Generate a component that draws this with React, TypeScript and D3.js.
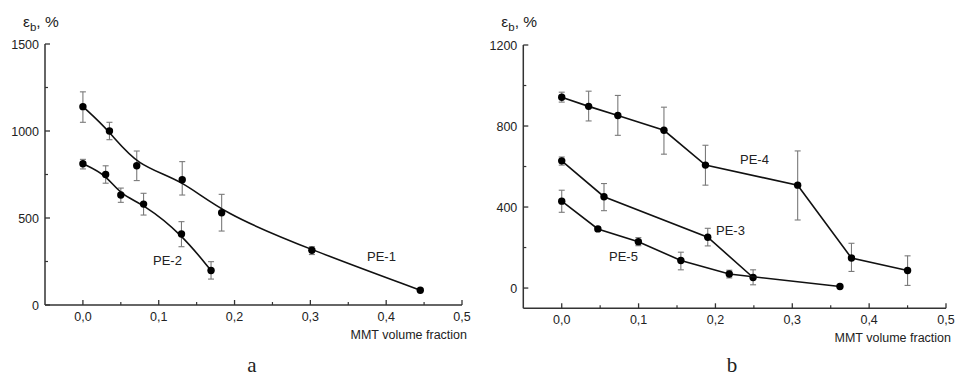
import React from "react";
import * as d3 from "d3";

// ---- Data ----
// Panel a
const pe1X = [0.0, 0.035, 0.071, 0.131, 0.183, 0.302, 0.445];
const pe1Y = [1140, 1000, 800, 720, 530, 315, 85];
const pe1Lo = [1050, 950, 715, 632, 425, 290, 85];
const pe1Hi = [1225, 1050, 885, 824, 636, 335, 85];

const pe2X = [0.0, 0.03, 0.05, 0.08, 0.13, 0.169];
const pe2Y = [812, 750, 632, 580, 408, 198];
const pe2Lo = [782, 700, 590, 517, 335, 149];
const pe2Hi = [837, 800, 672, 642, 479, 249];

// Panel b
const pe4X = [0.0, 0.035, 0.073, 0.133, 0.187, 0.307, 0.377, 0.45];
const pe4Y = [942, 897, 852, 779, 607, 508, 148, 87];
const pe4Lo = [918, 825, 754, 661, 508, 336, 82, 13];
const pe4Hi = [967, 972, 951, 893, 705, 677, 221, 159];

const pe3X = [0.0, 0.055, 0.19, 0.249];
const pe3Y = [628, 451, 251, 52];
const pe3Lo = [607, 382, 208, 16];
const pe3Hi = [647, 516, 295, 90];

const pe5X = [0.0, 0.047, 0.0997, 0.155, 0.218, 0.362];
const pe5Y = [429, 292, 229, 136, 69, 8];
const pe5Lo = [374, 282, 209, 90, 50, 8];
const pe5Hi = [483, 302, 249, 177, 88, 8];

const xTicks = [0, 0.1, 0.2, 0.3, 0.4, 0.5];
const xMinor = [0.05, 0.15, 0.25, 0.35, 0.45];
const aYTicks = [0, 500, 1000, 1500];
const aYMinor = [250, 750, 1250];
const bYTicks = [0, 400, 800, 1200];
const bYMinor = [200, 600, 1000];

type Series = { x: number[]; y: number[]; lo: number[]; hi: number[] };

const FONT = "'Liberation Sans', Arial, sans-serif";
const TXT = "#222";
const AX = "#333";

function fmtX(v: number) {
  return v.toFixed(1).replace(".", ",");
}

function Panel(props: {
  x0: number; x1: number; yTop: number; yBot: number;
  yDomain: [number, number];
  yTicks: number[]; yMinor: number[];
  series: Series[];
  curve: d3.CurveFactory;
  labels: { text: string; x: number; y: number }[];
  letter: string; letterX: number;
}) {
  const { x0, x1, yTop, yBot, yDomain, yTicks, yMinor, series, curve, labels, letter, letterX } = props;
  const xs = d3.scaleLinear().domain([-0.05, 0.5]).range([x0, x1]);
  const ys = d3.scaleLinear().domain(yDomain).range([yBot, yTop]);
  const line = d3.line<[number, number]>().x((d) => xs(d[0])).y((d) => ys(d[1])).curve(curve);
  return (
    <g>
      {/* axes */}
      <line x1={x0} y1={yTop} x2={x0} y2={yBot} stroke={AX} strokeWidth={1.5} />
      <line x1={x0} y1={yBot} x2={x1} y2={yBot} stroke={AX} strokeWidth={1.5} />
      {yTicks.map((t) => (
        <g key={"yt" + t}>
          <line x1={x0} x2={x0 + 5} y1={ys(t)} y2={ys(t)} stroke={AX} strokeWidth={1.3} />
          <text x={x0 - 6} y={ys(t)} dy="0.36em" textAnchor="end" fontFamily={FONT} fontSize={12.5} fill={TXT}>{t}</text>
        </g>
      ))}
      {yMinor.map((t) => (
        <line key={"ym" + t} x1={x0} x2={x0 + 3} y1={ys(t)} y2={ys(t)} stroke={AX} strokeWidth={1.2} />
      ))}
      {xTicks.map((t) => (
        <g key={"xt" + t}>
          <line x1={xs(t)} x2={xs(t)} y1={yBot} y2={yBot - 5} stroke={AX} strokeWidth={1.3} />
          <text x={xs(t)} y={yBot + 16} textAnchor="middle" fontFamily={FONT} fontSize={12.5} fill={TXT}>{fmtX(t)}</text>
        </g>
      ))}
      {xMinor.map((t) => (
        <line key={"xm" + t} x1={xs(t)} x2={xs(t)} y1={yBot} y2={yBot - 3} stroke={AX} strokeWidth={1.2} />
      ))}
      <text x={x1 + 5} y={yBot + 34} textAnchor="end" fontFamily={FONT} fontSize={12.5} fill={TXT}>MMT volume fraction</text>
      <text x={x0 - 22} y={27} fontFamily={FONT} fontSize={15.5} fill={TXT}>
        ε<tspan fontSize={11.5} dy={4}>b</tspan><tspan dy={-4}>, %</tspan>
      </text>
      {/* series */}
      {series.map((s, i) => {
        const pts = s.x.map((xv, j) => [xv, s.y[j]] as [number, number]);
        return (
          <g key={"s" + i}>
            {s.x.map((xv, j) =>
              s.hi[j] - s.lo[j] > 1 ? (
                <g key={"e" + j} stroke="#7a7a7a" strokeWidth={1.1}>
                  <line x1={xs(xv)} x2={xs(xv)} y1={ys(s.lo[j])} y2={ys(s.hi[j])} />
                  <line x1={xs(xv) - 3} x2={xs(xv) + 3} y1={ys(s.lo[j])} y2={ys(s.lo[j])} />
                  <line x1={xs(xv) - 3} x2={xs(xv) + 3} y1={ys(s.hi[j])} y2={ys(s.hi[j])} />
                </g>
              ) : null
            )}
            <path d={line(pts) || ""} fill="none" stroke="#111" strokeWidth={1.6} />
            {pts.map((p, j) => (
              <circle key={"c" + j} cx={xs(p[0])} cy={ys(p[1])} r={3.7} fill="#000" />
            ))}
          </g>
        );
      })}
      {labels.map((l) => (
        <text key={l.text} x={l.x} y={l.y} dy="0.36em" fontFamily={FONT} fontSize={13} fill={TXT}>{l.text}</text>
      ))}
      <text x={letterX} y={372} textAnchor="middle" fontFamily="'Liberation Serif', 'Times New Roman', serif" fontSize={21} fill={TXT}>{letter}</text>
    </g>
  );
}

export default function App() {
  const seriesA: Series[] = [
    { x: pe1X, y: pe1Y, lo: pe1Lo, hi: pe1Hi },
    { x: pe2X, y: pe2Y, lo: pe2Lo, hi: pe2Hi },
  ];
  const seriesB: Series[] = [
    { x: pe4X, y: pe4Y, lo: pe4Lo, hi: pe4Hi },
    { x: pe3X, y: pe3Y, lo: pe3Lo, hi: pe3Hi },
    { x: pe5X, y: pe5Y, lo: pe5Lo, hi: pe5Hi },
  ];
  return (
    <svg width={955} height={377} style={{ position: "absolute", left: 0, top: 0, background: "#fff" }}>
      <rect width={955} height={377} fill="#fff" />
      <Panel
        x0={45} x1={462} yTop={44} yBot={305}
        yDomain={[0, 1500]} yTicks={aYTicks} yMinor={aYMinor}
        series={seriesA} curve={d3.curveBasis}
        labels={[{ text: "PE-2", x: 153, y: 260 }, { text: "PE-1", x: 367, y: 256 }]}
        letter="a" letterX={252}
      />
      <Panel
        x0={523.3} x1={946} yTop={45} yBot={308.3}
        yDomain={[-100, 1200]} yTicks={bYTicks} yMinor={bYMinor}
        series={seriesB} curve={d3.curveLinear}
        labels={[{ text: "PE-4", x: 740, y: 159 }, { text: "PE-3", x: 716, y: 230 }, { text: "PE-5", x: 609, y: 256 }]}
        letter="b" letterX={732}
      />
    </svg>
  );
}
